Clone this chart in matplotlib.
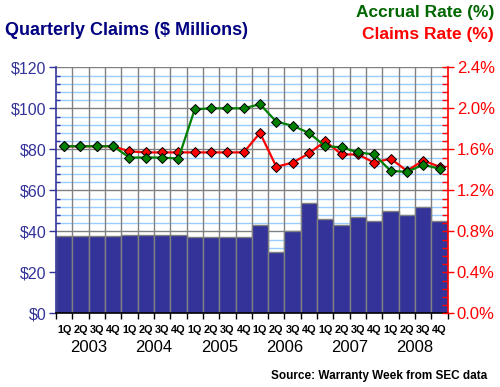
import matplotlib
matplotlib.use("Agg")
import matplotlib.pyplot as plt
import matplotlib.transforms as mtransforms
from matplotlib.ticker import MultipleLocator, FixedLocator, FuncFormatter

plt.rcParams['font.family'] = ['Liberation Sans', 'DejaVu Sans']

years = ['2003', '2004', '2005', '2006', '2007', '2008']
quarters = ['1Q', '2Q', '3Q', '4Q']

claims = [37.5, 37.5, 37.5, 37.5,
          38, 38, 38, 38,
          37, 37, 37, 37,
          43, 30, 40, 54,
          46, 43, 47, 45,
          50, 48, 52, 45]

accrual_rate = [1.63, 1.63, 1.63, 1.63,
                1.52, 1.52, 1.52, 1.51,
                1.99, 2.00, 2.00, 2.00,
                2.04, 1.87, 1.83, 1.76,
                1.63, 1.62, 1.57, 1.55,
                1.39, 1.38, 1.45, 1.41]

claims_rate = [1.63, 1.63, 1.63, 1.63,
               1.58, 1.57, 1.57, 1.57,
               1.57, 1.57, 1.57, 1.57,
               1.76, 1.43, 1.47, 1.56,
               1.68, 1.55, 1.55, 1.47,
               1.51, 1.39, 1.49, 1.43]

n = len(claims)
x = list(range(n))

NAVY = '#000080'
AXBLUE = '#333399'
BAR = '#333399'
GRAY = '#808080'
LIGHT = '#99CCFF'
RED = '#FF0000'
GREEN = '#008000'
DGREEN = '#006600'

fig = plt.figure(figsize=(5.0, 3.87), dpi=100)
ax = fig.add_axes([0.112, 0.1904, 0.7834, 0.6356])
ax.set_facecolor('white')

ax.set_xlim(-0.5, n - 0.5)
ax.set_ylim(0, 120)

# gridlines
for v in range(4, 120, 4):
    if v % 20 != 0:
        ax.axhline(v, color=LIGHT, lw=1.0, zorder=0.5)
for v in range(20, 121, 20):
    ax.axhline(v, color=GRAY, lw=1.0, zorder=0.6)
for b in range(1, n):
    ax.axvline(b - 0.5, color=GRAY, lw=1.0, zorder=0.7)

ax.bar(x, claims, width=1.0, color=BAR, edgecolor=GRAY, linewidth=1.0, zorder=2)

# left axis
ax.yaxis.set_major_locator(MultipleLocator(20))
ax.yaxis.set_minor_locator(MultipleLocator(4))
ax.yaxis.set_major_formatter(FuncFormatter(lambda v, p: '$%d' % v))
ax.tick_params(axis='y', which='major', direction='out', length=5, width=1,
               colors=AXBLUE, labelsize=11.5, pad=2)
ax.tick_params(axis='y', which='minor', direction='in', length=3, width=1, color=AXBLUE)
ax.spines['left'].set_color(AXBLUE)
ax.spines['left'].set_linewidth(1.2)
ax.spines['top'].set_visible(False)
ax.spines['right'].set_visible(False)
ax.spines['bottom'].set_color('black')
ax.spines['bottom'].set_linewidth(1.2)

# x axis
ax.xaxis.set_major_locator(FixedLocator(x))
ax.set_xticklabels([quarters[i % 4] for i in x])
ax.xaxis.set_minor_locator(FixedLocator([i - 0.5 for i in range(n + 1)]))
ax.tick_params(axis='x', which='major', length=0, labelsize=7.8, pad=8.5)
ax.tick_params(axis='x', which='minor', direction='out', length=4, width=1, color='black')
for lab in ax.get_xticklabels():
    lab.set_fontweight('bold')

trans = mtransforms.blended_transform_factory(ax.transData, ax.transAxes)
for i, yr in enumerate(years):
    ax.text(4 * i + 1.5, -0.138, yr, transform=trans, ha='center', va='center',
            fontsize=12, color='black')

# right axis
ax2 = ax.twinx()
ax2.set_ylim(0, 2.4)
ax2.set_xlim(-0.5, n - 0.5)
ax2.plot(x, claims_rate, color=RED, lw=1.6, marker='D', markersize=5,
         markerfacecolor=RED, markeredgecolor='black', markeredgewidth=0.7, zorder=3)
ax2.plot(x, accrual_rate, color=GREEN, lw=1.6, marker='D', markersize=5,
         markerfacecolor=GREEN, markeredgecolor='black', markeredgewidth=0.7, zorder=4)
ax2.yaxis.set_major_locator(MultipleLocator(0.4))
ax2.yaxis.set_minor_locator(MultipleLocator(0.08))
ax2.yaxis.set_major_formatter(FuncFormatter(lambda v, p: '%.1f%%' % v))
ax2.tick_params(axis='y', which='major', direction='inout', length=9, width=1,
                colors=RED, labelsize=12, pad=2)
ax2.tick_params(axis='y', which='minor', direction='in', length=4, width=1, color=RED)
for s in ['left', 'top', 'bottom']:
    ax2.spines[s].set_visible(False)
ax2.spines['right'].set_color(RED)
ax2.spines['right'].set_linewidth(1.2)

fig.text(0.01, 0.92, 'Quarterly Claims ($ Millions)', ha='left', va='center',
         fontsize=13, fontweight='bold', color=NAVY)
fig.text(0.988, 0.968, 'Accrual Rate (%)', ha='right', va='center',
         fontsize=12.5, fontweight='bold', color=DGREEN)
fig.text(0.988, 0.912, 'Claims Rate (%)', ha='right', va='center',
         fontsize=12.5, fontweight='bold', color=RED)
fig.text(0.974, 0.028, 'Source: Warranty Week from SEC data', ha='right', va='center',
         fontsize=8.5, fontweight='bold', color='black')

fig.savefig('out.png', dpi=100, facecolor='white')
